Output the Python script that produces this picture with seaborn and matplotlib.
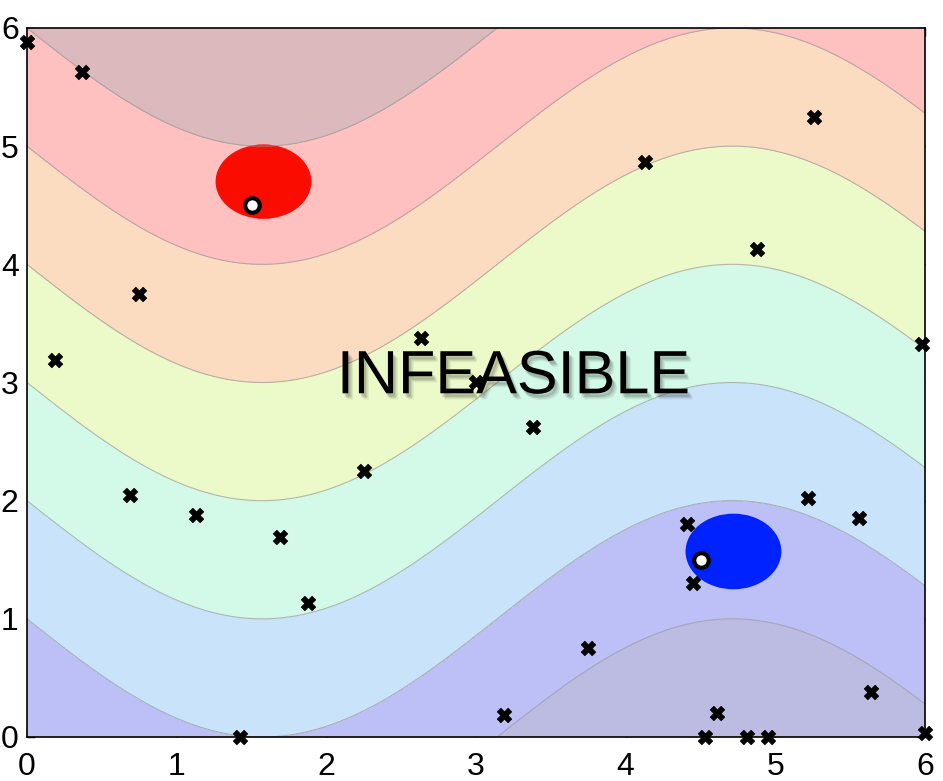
import numpy as np
import matplotlib
matplotlib.use("Agg")
import matplotlib.pyplot as plt
import matplotlib.patheffects as pe
import seaborn as sns
from matplotlib.patches import Ellipse

# Background field: f = y + amp * sin(x), filled between integer levels
x_range = [0, 6]
y_range = [0, 6]
wave_amp = 1.0
levels = [-2, 0, 1, 2, 3, 4, 5, 6, 8]
band_colors = ["#bcbbe2", "#bcc0f6", "#c9e4fa", "#d3fae9", "#ecfac9",
               "#fbdcc0", "#ffc0c0", "#dcb9bd"]

# Sample points (crosses)
samples_x = [0.0, 0.37, 0.19, 0.75, 0.69, 1.13, 1.42, 1.69, 1.88, 2.25,
             2.63, 3.0, 3.38, 3.19, 3.75, 4.13, 4.41, 4.45, 4.53, 4.61,
             4.81, 4.95, 4.88, 5.22, 5.26, 5.56, 5.64, 5.98, 6.0]
samples_y = [5.88, 5.63, 3.19, 3.75, 2.05, 1.88, 0.0, 1.69, 1.13, 2.25,
             3.38, 3.0, 2.62, 0.19, 0.75, 4.87, 1.80, 1.30, 0.0, 0.20,
             0.0, 0.0, 4.13, 2.02, 5.25, 1.85, 0.38, 3.33, 0.03]

# Optima (white circles)
opt_x = [1.5, 4.5]
opt_y = [4.5, 1.5]

# Target regions (ellipses): centre x, centre y, width, height, colour
region_cx = [1.58, 4.72]
region_cy = [4.70, 1.57]
region_w = [0.64, 0.64]
region_h = [0.63, 0.64]
region_col = ["#fa0d00", "#0022ff"]

label_text = "INFEASIBLE"
label_pos = (3.25, 3.04)

sns.set_style("ticks")
plt.rcParams['font.family'] = ['Liberation Sans', 'DejaVu Sans']

fig = plt.figure(figsize=(9.43, 7.81), dpi=100)
ax = fig.add_axes([27 / 943, 44 / 781, 898 / 943, 709 / 781])

gx = np.linspace(x_range[0], x_range[1], 400)
gy = np.linspace(y_range[0], y_range[1], 400)
GX, GY = np.meshgrid(gx, gy)
F = GY + wave_amp * np.sin(GX)

ax.contourf(GX, GY, F, levels=levels, colors=band_colors, zorder=1)

for cx, cy, w, h, c in zip(region_cx, region_cy, region_w, region_h, region_col):
    ax.add_patch(Ellipse((cx, cy), w, h, facecolor=c, edgecolor="none", zorder=2))

ax.contour(GX, GY, F, levels=levels[1:-1], colors="#9a9a9a", linewidths=0.8,
           alpha=0.7, zorder=3)

sns.scatterplot(x=samples_x, y=samples_y, marker="X", s=110, color="black",
                edgecolor="black", linewidth=0.5, ax=ax, zorder=5, clip_on=False)
sns.scatterplot(x=opt_x, y=opt_y, marker="o", s=110, color="white",
                edgecolor="black", linewidth=3, ax=ax, zorder=6)

# label with a soft drop shadow
shadow = [pe.SimplePatchShadow(offset=(sx, sy), shadow_rgbFace="black", alpha=a)
          for sx, sy, a in [(1.5, -2.5, 0.12), (2.5, -3.5, 0.10), (3.5, -4.5, 0.07)]]
ax.text(*label_pos, label_text, ha="center", va="center", fontsize=44,
        color="black", zorder=8, path_effects=shadow + [pe.Normal()])

ax.set_xlim(x_range)
ax.set_ylim(y_range)
ax.set_xticks(range(7))
ax.set_yticks(range(7))
ax.tick_params(direction="in", length=6, width=1, top=True, right=True,
               labelsize=23, colors="black")
ax.tick_params(axis="x", pad=11)
ax.tick_params(axis="y", pad=6)
for s in ax.spines.values():
    s.set_linewidth(1.2)
    s.set_color("black")
    s.set_zorder(10)

fig.savefig("out.png", dpi=100)
